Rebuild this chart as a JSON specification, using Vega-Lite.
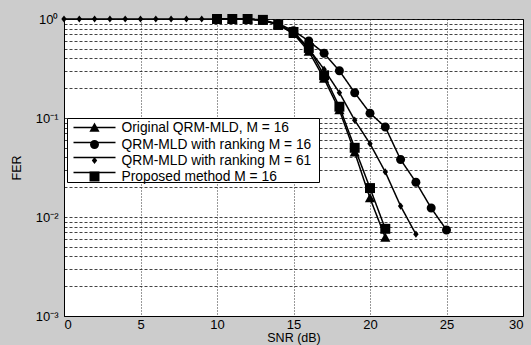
{
  "$schema": "https://vega.github.io/schema/vega-lite/v6.json",
  "width": 459,
  "height": 297,
  "autosize": {"type": "none"},
  "padding": {"left": 64, "top": 19, "right": 8, "bottom": 29},
  "background": "#cccccc",
  "config": {
    "view": {"fill": "white", "stroke": "black", "strokeWidth": 1},
    "font": "Liberation Sans",
    "axis": {
      "domainColor": "black",
      "labelColor": "black",
      "titleColor": "black",
      "labelFontSize": 13,
      "titleFontSize": 12.5,
      "titleFontWeight": "normal",
      "ticks": false,
      "labelOverlap": false
    },
    "legend": {
      "title": null,
      "orient": "none",
      "legendX": 3,
      "legendY": 99,
      "padding": 2.5,
      "labelFontSize": 13.8,
      "labelColor": "black",
      "labelLimit": 400,
      "symbolSize": 144,
      "symbolOffset": 18,
      "rowPadding": 1,
      "symbolStrokeWidth": 1.5
    }
  },
  "data": {
    "values": [
      {"series": "QRM-MLD with ranking M = 61", "snr": 0, "fer": 1},
      {"series": "QRM-MLD with ranking M = 61", "snr": 1, "fer": 1},
      {"series": "QRM-MLD with ranking M = 61", "snr": 2, "fer": 1},
      {"series": "QRM-MLD with ranking M = 61", "snr": 3, "fer": 1},
      {"series": "QRM-MLD with ranking M = 61", "snr": 4, "fer": 1},
      {"series": "QRM-MLD with ranking M = 61", "snr": 5, "fer": 1},
      {"series": "QRM-MLD with ranking M = 61", "snr": 6, "fer": 1},
      {"series": "QRM-MLD with ranking M = 61", "snr": 7, "fer": 1},
      {"series": "QRM-MLD with ranking M = 61", "snr": 8, "fer": 1},
      {"series": "QRM-MLD with ranking M = 61", "snr": 9, "fer": 1},
      {"series": "QRM-MLD with ranking M = 61", "snr": 10, "fer": 1},
      {"series": "QRM-MLD with ranking M = 61", "snr": 11, "fer": 1},
      {"series": "QRM-MLD with ranking M = 61", "snr": 12, "fer": 1},
      {"series": "QRM-MLD with ranking M = 61", "snr": 13, "fer": 0.97},
      {"series": "QRM-MLD with ranking M = 61", "snr": 14, "fer": 0.88},
      {"series": "QRM-MLD with ranking M = 61", "snr": 15, "fer": 0.72},
      {"series": "QRM-MLD with ranking M = 61", "snr": 16, "fer": 0.5},
      {"series": "QRM-MLD with ranking M = 61", "snr": 17, "fer": 0.31},
      {"series": "QRM-MLD with ranking M = 61", "snr": 18, "fer": 0.18},
      {"series": "QRM-MLD with ranking M = 61", "snr": 19, "fer": 0.095},
      {"series": "QRM-MLD with ranking M = 61", "snr": 20, "fer": 0.055},
      {"series": "QRM-MLD with ranking M = 61", "snr": 21, "fer": 0.0285},
      {"series": "QRM-MLD with ranking M = 61", "snr": 22, "fer": 0.0129},
      {"series": "QRM-MLD with ranking M = 61", "snr": 23, "fer": 0.0067},
      {"series": "QRM-MLD with ranking M = 16", "snr": 10, "fer": 1},
      {"series": "QRM-MLD with ranking M = 16", "snr": 11, "fer": 1},
      {"series": "QRM-MLD with ranking M = 16", "snr": 12, "fer": 1},
      {"series": "QRM-MLD with ranking M = 16", "snr": 13, "fer": 0.97},
      {"series": "QRM-MLD with ranking M = 16", "snr": 14, "fer": 0.9},
      {"series": "QRM-MLD with ranking M = 16", "snr": 15, "fer": 0.76},
      {"series": "QRM-MLD with ranking M = 16", "snr": 16, "fer": 0.6},
      {"series": "QRM-MLD with ranking M = 16", "snr": 17, "fer": 0.45},
      {"series": "QRM-MLD with ranking M = 16", "snr": 18, "fer": 0.3},
      {"series": "QRM-MLD with ranking M = 16", "snr": 19, "fer": 0.18},
      {"series": "QRM-MLD with ranking M = 16", "snr": 20, "fer": 0.112},
      {"series": "QRM-MLD with ranking M = 16", "snr": 21, "fer": 0.081},
      {"series": "QRM-MLD with ranking M = 16", "snr": 22, "fer": 0.038},
      {"series": "QRM-MLD with ranking M = 16", "snr": 23, "fer": 0.0225},
      {"series": "QRM-MLD with ranking M = 16", "snr": 24, "fer": 0.0123},
      {"series": "QRM-MLD with ranking M = 16", "snr": 25, "fer": 0.0074},
      {"series": "Original QRM-MLD, M = 16", "snr": 10, "fer": 1},
      {"series": "Original QRM-MLD, M = 16", "snr": 11, "fer": 1},
      {"series": "Original QRM-MLD, M = 16", "snr": 12, "fer": 1},
      {"series": "Original QRM-MLD, M = 16", "snr": 13, "fer": 0.97},
      {"series": "Original QRM-MLD, M = 16", "snr": 14, "fer": 0.88},
      {"series": "Original QRM-MLD, M = 16", "snr": 15, "fer": 0.71},
      {"series": "Original QRM-MLD, M = 16", "snr": 16, "fer": 0.47},
      {"series": "Original QRM-MLD, M = 16", "snr": 17, "fer": 0.25},
      {"series": "Original QRM-MLD, M = 16", "snr": 18, "fer": 0.12},
      {"series": "Original QRM-MLD, M = 16", "snr": 19, "fer": 0.045},
      {"series": "Original QRM-MLD, M = 16", "snr": 20, "fer": 0.0155},
      {"series": "Original QRM-MLD, M = 16", "snr": 21, "fer": 0.0062},
      {"series": "Proposed method M = 16", "snr": 10, "fer": 1},
      {"series": "Proposed method M = 16", "snr": 11, "fer": 1},
      {"series": "Proposed method M = 16", "snr": 12, "fer": 1},
      {"series": "Proposed method M = 16", "snr": 13, "fer": 0.98},
      {"series": "Proposed method M = 16", "snr": 14, "fer": 0.87},
      {"series": "Proposed method M = 16", "snr": 15, "fer": 0.74},
      {"series": "Proposed method M = 16", "snr": 16, "fer": 0.51},
      {"series": "Proposed method M = 16", "snr": 17, "fer": 0.27},
      {"series": "Proposed method M = 16", "snr": 18, "fer": 0.13},
      {"series": "Proposed method M = 16", "snr": 19, "fer": 0.05},
      {"series": "Proposed method M = 16", "snr": 20, "fer": 0.0196},
      {"series": "Proposed method M = 16", "snr": 21, "fer": 0.0076}
    ]
  },
  "encoding": {
    "x": {
      "field": "snr",
      "type": "quantitative",
      "scale": {"domain": [0, 30], "nice": false, "zero": false},
      "axis": {
        "title": "SNR (dB)",
        "values": [0, 5, 10, 15, 20, 25, 30],
        "grid": true,
        "gridColor": "black",
        "gridDash": [1, 2],
        "gridOpacity": 0.8,
        "labelPadding": 2,
        "titlePadding": 0
      }
    },
    "y": {
      "field": "fer",
      "type": "quantitative",
      "scale": {"type": "log", "domain": [0.001, 1], "nice": false},
      "axis": {
        "title": "FER",
        "values": [0.001, 0.002, 0.003, 0.004, 0.005, 0.006, 0.007, 0.008, 0.009, 0.01, 0.02, 0.03, 0.04, 0.05, 0.06, 0.07, 0.08, 0.09, 0.1, 0.2, 0.3, 0.4, 0.5, 0.6, 0.7, 0.8, 0.9, 1],
        "labelExpr": "datum.value == 1 ? '10⁰' : datum.value == 0.1 ? '10⁻¹' : datum.value == 0.01 ? '10⁻²' : datum.value == 0.001 ? '10⁻³' : ''",
        "grid": true,
        "gridColor": "#222222",
        "gridDash": [3, 2],
        "gridOpacity": 0.85,
        "labelPadding": 6,
        "titlePadding": 12
      }
    }
  },
  "layer": [
    {
      "mark": {"type": "line", "color": "black", "strokeWidth": 1.5, "clip": false},
      "encoding": {
        "strokeDash": {
          "field": "series",
          "type": "nominal",
          "scale": {
            "domain": ["Original QRM-MLD, M = 16", "QRM-MLD with ranking M = 16", "QRM-MLD with ranking M = 61", "Proposed method M = 16"],
            "range": [[1, 0], [1, 0], [1, 0], [1, 0]]
          },
          "legend": {
            "symbolType": "M-3.5,0H3.5",
            "labelExpr": "'.'",
            "labelOffset": 210.7,
            "labelOpacity": 0,
            "strokeColor": "black",
            "fillColor": "white"
          }
        }
      }
    },
    {
      "mark": {"type": "point", "filled": true, "size": 144, "opacity": 1, "color": "black", "clip": false},
      "encoding": {
        "shape": {
          "field": "series",
          "type": "nominal",
          "sort": ["Original QRM-MLD, M = 16", "QRM-MLD with ranking M = 16", "QRM-MLD with ranking M = 61", "Proposed method M = 16"],
          "scale": {
            "range": ["M0,-0.85L0.85,0.7L-0.85,0.7Z", "M-0.75,0A0.75,0.75,0,1,0,0.75,0A0.75,0.75,0,1,0,-0.75,0Z", "M0,-0.6L0.45,0L0,0.6L-0.45,0Z", "M-0.83,-0.83H0.83V0.83H-0.83Z"]
          },
          "legend": {
            "labelOffset": 20,
            "strokeColor": null,
            "fillColor": null
          }
        }
      }
    }
  ]
}
